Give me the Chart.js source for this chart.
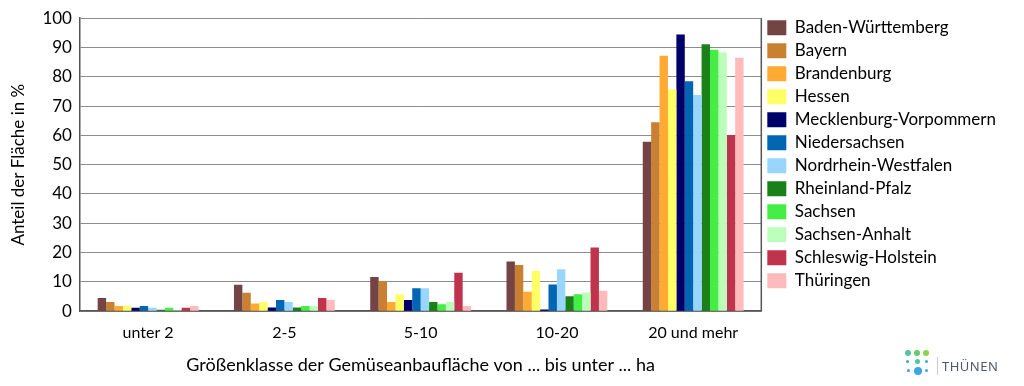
<!DOCTYPE html>
<html>
<head>
<meta charset="utf-8">
<script src="https://cdn.jsdelivr.net/npm/chart.js@4"></script>
<style>
  html, body { margin: 0; padding: 0; background: #fff; }
  #wrap { position: relative; width: 1024px; height: 386px; }
  #logo { position: absolute; left: 905px; top: 350px; font-family: "Noto Sans", sans-serif; font-size: 13px; color: #4d5a66; letter-spacing: 0.5px; }
  #logo .mark { position: absolute; left: 0; top: 0; width: 26px; height: 26px; }
  #logo .mark i { position: absolute; border-radius: 50%; display: block; }
  #logo .txt { position: absolute; left: 32px; top: 7px; border-left: 1px solid #ccc; padding-left: 4px; }
</style>
</head>
<body>
<div id="wrap">
  <canvas id="myChart" width="1024" height="386"></canvas>
  <div id="logo">
    <div class="mark">
      <i style="left:0;top:0;width:6px;height:6px;background:#4fc6a0"></i>
      <i style="left:9px;top:0;width:6px;height:6px;background:#66cc66"></i>
      <i style="left:18px;top:0;width:6px;height:6px;background:#88d44a"></i>
      <i style="left:1px;top:10px;width:3px;height:3px;background:#3aa6d8"></i>
      <i style="left:10px;top:9px;width:5px;height:5px;background:#4fc6a0"></i>
      <i style="left:20px;top:10px;width:3px;height:3px;background:#3aa6d8"></i>
      <i style="left:2px;top:19px;width:3px;height:3px;background:#3aa6d8"></i>
      <i style="left:9px;top:17px;width:8px;height:8px;background:#3aa6e8"></i>
      <i style="left:20px;top:19px;width:3px;height:3px;background:#3aa6d8"></i>
    </div>
    <span class="txt">THÜNEN</span>
  </div>
</div>
<script>
(function () {
    "use strict";

    var categories = ["unter 2", "2-5", "5-10", "10-20", "20 und mehr"];
    var yTicks = [0, 10, 20, 30, 40, 50, 60, 70, 80, 90, 100];

    var badenWuerttemberg = [4.5, 9.0, 11.7, 17.0, 57.8];
    var bayern = [3.1, 6.3, 10.3, 15.8, 64.5];
    var brandenburg = [1.8, 2.6, 3.1, 6.6, 87.2];
    var hessen = [1.8, 3.1, 5.8, 13.7, 75.7];
    var mecklenburgVorpommern = [1.2, 1.3, 3.8, 0.6, 94.4];
    var niedersachsen = [1.8, 3.8, 7.8, 9.1, 78.5];
    var nordrheinWestfalen = [1.2, 3.1, 7.8, 14.3, 73.8];
    var rheinlandPfalz = [0.5, 1.3, 3.1, 5.1, 91.1];
    var sachsen = [1.2, 1.8, 2.4, 5.8, 89.2];
    var sachsenAnhalt = [0.3, 1.8, 3.1, 6.4, 88.4];
    var schleswigHolstein = [1.2, 4.5, 13.1, 21.7, 60.1];
    var thueringen = [1.8, 3.8, 1.8, 7.0, 86.5];

    var series = [
        ["Baden-Württemberg", badenWuerttemberg, "#744343"],
        ["Bayern", bayern, "#c98030"],
        ["Brandenburg", brandenburg, "#ffaa33"],
        ["Hessen", hessen, "#ffff66"],
        ["Mecklenburg-Vorpommern", mecklenburgVorpommern, "#00006b"],
        ["Niedersachsen", niedersachsen, "#0066b3"],
        ["Nordrhein-Westfalen", nordrheinWestfalen, "#99d6ff"],
        ["Rheinland-Pfalz", rheinlandPfalz, "#1a801a"],
        ["Sachsen", sachsen, "#44ee44"],
        ["Sachsen-Anhalt", sachsenAnhalt, "#bbffbb"],
        ["Schleswig-Holstein", schleswigHolstein, "#c0334d"],
        ["Thüringen", thueringen, "#ffbbbb"]
    ];

    var font = "Lato";

    // right frame line of the plot area
    var rightBorder = {
        id: "rightBorder",
        afterDraw: function (chart) {
            var a = chart.chartArea, c = chart.ctx;
            c.save();
            c.strokeStyle = "#555";
            c.lineWidth = 1.5;
            c.beginPath();
            c.moveTo(a.right, a.top);
            c.lineTo(a.right, a.bottom);
            c.stroke();
            c.restore();
        }
    };

    function draw() {
        var ctx = document.getElementById("myChart");
        new Chart(ctx, {
            type: "bar",
            data: {
                labels: categories,
                datasets: series.map(function (s) {
                    return {
                        label: s[0],
                        data: s[1],
                        backgroundColor: s[2],
                        barPercentage: 1,
                        categoryPercentage: 0.74
                    };
                })
            },
            plugins: [rightBorder],
            options: {
                responsive: false,
                animation: false,
                layout: { padding: { top: 4, right: 18, left: 4, bottom: 6 } },
                plugins: {
                    tooltip: { enabled: false },
                    legend: {
                        position: "right",
                        align: "start",
                        // empty title only used as a small top spacer
                        title: { display: true, text: "", font: { size: 1 }, padding: { top: 0, bottom: 8 } },
                        labels: {
                            boxWidth: 19,
                            boxHeight: 15,
                            padding: 6,
                            color: "#000",
                            font: { family: font, size: 17 }
                        }
                    }
                },
                scales: {
                    x: {
                        grid: { display: false, drawTicks: false },
                        border: { color: "#555", width: 1.5 },
                        ticks: { color: "#000", padding: 12, font: { family: font, size: 16 } },
                        title: {
                            display: true,
                            text: "Größenklasse der Gemüseanbaufläche von ... bis unter ... ha",
                            color: "#000",
                            font: { family: font, size: 18 },
                            padding: { top: 0 }
                        }
                    },
                    y: {
                        min: 0,
                        max: 100,
                        afterBuildTicks: function (axis) {
                            axis.ticks = yTicks.map(function (v) { return { value: v }; });
                        },
                        grid: { color: "#8c8c8c", drawTicks: false },
                        border: { color: "#555", width: 1.5 },
                        ticks: { color: "#000", padding: 8, font: { family: font, size: 17 } },
                        title: {
                            display: true,
                            text: "Anteil der Fläche in %",
                            color: "#000",
                            font: { family: font, size: 17 },
                            padding: { bottom: 6 }
                        }
                    }
                }
            }
        });
    }

    Promise.all([
        document.fonts.load("16px Lato"),
        document.fonts.load("17px Lato"),
        document.fonts.load("18px Lato")
    ]).then(draw, draw);
})();
</script>
</body>
</html>
